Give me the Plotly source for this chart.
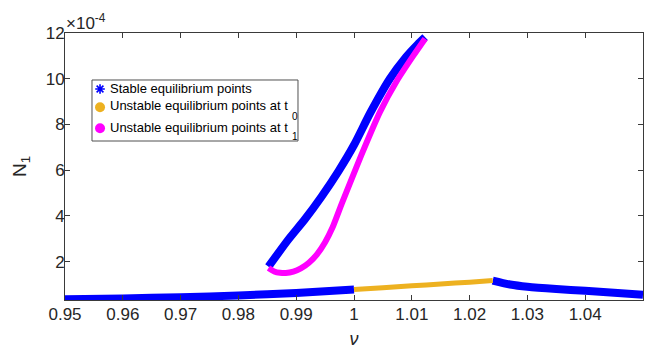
import plotly.graph_objects as go

# N1 values are stored in units of 1e-4 (the axis shows a x10^-4 multiplier)
# Lower stable branch, left part
nu_stable_left = [0.95, 0.96, 0.97, 0.98, 0.99, 1.0]
n1_stable_left = [0.35, 0.39, 0.44, 0.52, 0.63, 0.78]

# Unstable branch at t0
nu_unstable_t0 = [1.0, 1.005, 1.01, 1.015, 1.02, 1.024]
n1_unstable_t0 = [0.78, 0.86, 0.94, 1.02, 1.10, 1.17]

# Lower stable branch, right part
nu_stable_right = [1.024, 1.027, 1.03, 1.035, 1.04, 1.045, 1.05]
n1_stable_right = [1.17, 1.00, 0.90, 0.80, 0.72, 0.64, 0.55]

# Upper stable branch
nu_stable_upper = [0.9852, 0.9886, 0.9915, 0.9944, 0.9973, 1.0000,
                   1.0028, 1.0062, 1.0090, 1.0110, 1.0123]
n1_stable_upper = [1.78, 2.95, 3.85, 4.85, 5.95, 7.10,
                   8.50, 10.00, 10.95, 11.50, 11.82]

# Unstable branch at t1
nu_unstable_t1 = [0.9852, 0.9862, 0.9872, 0.9882, 0.9895, 0.9908, 0.9922, 0.9936,
                  0.9950, 0.9963, 0.9979, 0.9996, 1.0013, 1.0045, 1.0074, 1.0103, 1.0123]
n1_unstable_t1 = [1.72, 1.57, 1.51, 1.50, 1.56, 1.70, 1.95, 2.32,
                  2.85, 3.50, 4.55, 5.62, 6.68, 8.55, 9.90, 11.02, 11.75]

x_ticks = [0.95, 0.96, 0.97, 0.98, 0.99, 1.0, 1.01, 1.02, 1.03, 1.04]
x_tick_text = ["0.95", "0.96", "0.97", "0.98", "0.99", "1", "1.01", "1.02", "1.03", "1.04"]
y_ticks = [2, 4, 6, 8, 10, 12]
y_tick_text = ["2", "4", "6", "8", "10", "12"]

legend_labels = ["Stable equilibrium points",
                 "Unstable equilibrium points at t",
                 "Unstable equilibrium points at t"]
legend_subscripts = ["", "0", "1"]

BLUE = "#0000FF"
ORANGE = "#EDB120"
MAGENTA = "#FF00FF"
FONT = "Liberation Sans, Arial, Helvetica, sans-serif"
AXIS = "#3a3a3a"
TEXT = "#262626"

fig = go.Figure()

for xs, ys in [(nu_stable_left, n1_stable_left), (nu_stable_right, n1_stable_right)]:
    fig.add_trace(go.Scatter(x=xs, y=ys, mode="lines", showlegend=False,
                             line=dict(color=BLUE, width=8, shape="spline", smoothing=0.6)))

fig.add_trace(go.Scatter(x=nu_unstable_t0, y=n1_unstable_t0, mode="lines", showlegend=False,
                         line=dict(color=ORANGE, width=5, shape="spline", smoothing=0.6)))

fig.add_trace(go.Scatter(x=nu_stable_upper, y=n1_stable_upper, mode="lines", showlegend=False,
                         line=dict(color=BLUE, width=8, shape="spline", smoothing=0.6)))

fig.add_trace(go.Scatter(x=nu_unstable_t1, y=n1_unstable_t1, mode="lines", showlegend=False,
                         line=dict(color=MAGENTA, width=6, shape="spline", smoothing=0.5)))

# Legend box drawn on an overlay axis spanning [0, 1] in both directions
LEG_X0, LEG_X1, LEG_Y0, LEG_Y1 = 0.0467, 0.4031, 0.5955, 0.824
sym_x = 0.0606
txt_x = 0.0744
row_y = [0.7903, 0.7266, 0.6479]
sym_y = [0.7903, 0.7217, 0.6431]
sub_x = 0.3893
sub_y = [None, 0.6891, 0.6142]

fig.add_shape(type="rect", xref="paper", yref="paper",
              x0=LEG_X0, x1=LEG_X1, y0=LEG_Y0, y1=LEG_Y1,
              line=dict(color="#505050", width=1), fillcolor="white", layer="below")

fig.add_trace(go.Scatter(x=[sym_x], y=[sym_y[0]], xaxis="x2", yaxis="y2", mode="markers",
                         showlegend=False, hoverinfo="skip",
                         marker=dict(symbol="asterisk-open", size=8, color=BLUE,
                                     line=dict(color=BLUE, width=1.6))))
fig.add_trace(go.Scatter(x=[sym_x, sym_x], y=sym_y[1:], xaxis="x2", yaxis="y2", mode="markers",
                         showlegend=False, hoverinfo="skip",
                         marker=dict(symbol="circle", size=10, color=[ORANGE, MAGENTA],
                                     line=dict(width=0))))

for label, ty in zip(legend_labels, row_y):
    fig.add_annotation(text=label, xref="paper", yref="paper", x=txt_x, y=ty,
                       xanchor="left", yanchor="middle", showarrow=False,
                       font=dict(family=FONT, size=13, color="black"))
for sub, sy in zip(legend_subscripts, sub_y):
    if sub:
        fig.add_annotation(text=sub, xref="paper", yref="paper", x=sub_x, y=sy,
                           xanchor="left", yanchor="middle", showarrow=False,
                           font=dict(family=FONT, size=10, color="black"))

axis_common = dict(showline=True, linecolor=AXIS, linewidth=1, mirror="ticks",
                   ticks="inside", ticklen=5, tickcolor=AXIS, showgrid=False,
                   zeroline=False, tickfont=dict(family=FONT, size=17, color=TEXT))

fig.update_xaxes(range=[0.95, 1.05], tickvals=x_ticks, ticktext=x_tick_text,
                 title=dict(text="<i>ν</i>", font=dict(family=FONT, size=18, color=TEXT),
                            standoff=8),
                 ticklabelstandoff=-1, **axis_common)
fig.update_yaxes(range=[0.32, 12], tickvals=y_ticks, ticktext=y_tick_text,
                 title=dict(text="N<sub>1</sub>", font=dict(family=FONT, size=19, color=TEXT),
                            standoff=14),
                 ticklabelstandoff=-4, **axis_common)

fig.update_layout(
    xaxis2=dict(overlaying="x", range=[0, 1], visible=False, fixedrange=True),
    yaxis2=dict(overlaying="y", range=[0, 1], visible=False, fixedrange=True),
)

fig.add_annotation(text="×10<sup>-4</sup>", xref="paper", yref="paper", x=0, y=1,
                   xanchor="left", yanchor="bottom", showarrow=False, xshift=-1, yshift=-2,
                   font=dict(family=FONT, size=17, color=TEXT))

fig.update_layout(
    width=645, height=351,
    margin=dict(l=65, r=2, t=33, b=51),
    paper_bgcolor="white", plot_bgcolor="white",
    showlegend=False,
)

fig.write_html("out.html")
